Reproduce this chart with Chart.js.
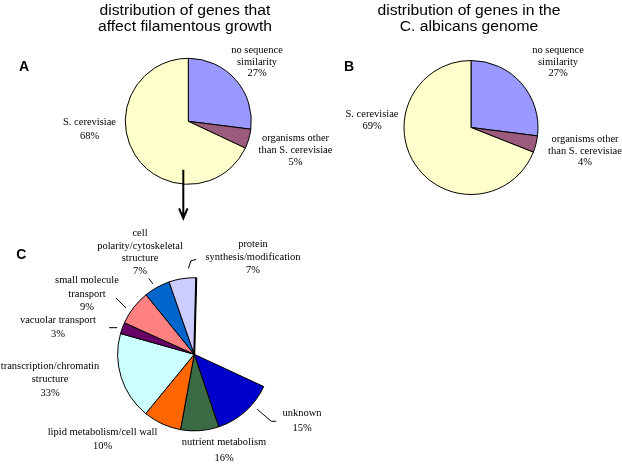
<!DOCTYPE html>
<html>
<head>
<meta charset="utf-8">
<script src="https://cdn.jsdelivr.net/npm/chart.js@4.4.1/dist/chart.umd.min.js"></script>
<style>
  body { margin: 0; background: #fff; }
  #lienzo { position: relative; width: 622px; height: 466px; overflow: hidden; background: #fff; }
  canvas { position: absolute; left: 0; top: 0; }
  .titulo {
    position: absolute; width: 260px; text-align: center; white-space: pre-line;
    font-family: "Liberation Sans", Arial, sans-serif; font-size: 14px; line-height: 15.5px;
    transform: scaleX(1.12); color: #000;
  }
  .letra {
    position: absolute; font-family: "Liberation Sans", Arial, sans-serif;
    font-weight: bold; font-size: 14px; line-height: 14px; color: #000;
  }
  .etiqueta {
    position: absolute; width: 160px; text-align: center; white-space: pre-line;
    font-family: "Liberation Serif", "Times New Roman", serif; font-size: 10.5px; color: #000;
  }
</style>
</head>
<body>
<div id="lienzo">
  <canvas id="pieA" width="622" height="466"></canvas>
  <canvas id="pieB" width="622" height="466"></canvas>
  <canvas id="pieC" width="622" height="466"></canvas>
</div>
<script>
// Datos de la gráfica A (genes que afectan el crecimiento filamentoso)
var categoriasA = ['no sequence\nsimilarity', 'organisms other\nthan S. cerevisiae', 'S. cerevisiae'];
var valoresA = [27, 5, 68];

// Datos de la gráfica B (genoma de C. albicans)
var categoriasB = ['no sequence\nsimilarity', 'organisms other\nthan S. cerevisiae', 'S. cerevisiae'];
var valoresB = [27, 4, 69];

// Datos de la gráfica C (desglose de la parte S. cerevisiae), en orden de las manecillas del reloj
var categoriasC = ['unknown', 'nutrient metabolism', 'lipid metabolism/cell wall',
  'transcription/chromatin\nstructure', 'vacuolar transport', 'small molecule\ntransport',
  'cell\npolarity/cytoskeletal\nstructure', 'protein\nsynthesis/modification'];
// Porcentajes que vienen escritos en las etiquetas
var porcentajesC = [15, 16, 10, 33, 3, 9, 7, 7];
// Tamaño de cada rebanada como se ve dibujada (en % de un círculo completo)
var valoresC = [12.9, 8.05, 8.05, 18.45, 2.4, 7.4, 5.5, 5.75];

// Colores
var coloresAB = ['#9999FF', '#9A5B7C', '#FFFFCC'];
var coloresC = ['#0000CC', '#3A6B44', '#FF6600', '#CCFFFF', '#660066', '#FF8080', '#0066CC', '#CCCCFF'];

// Posición de las etiquetas: [centro x, centro y de la primera línea, alto de línea]
var posicionesA = [[257, 50, 11.2], [295.5, 138.3, 11.7], [89.5, 122.3, 13.7]];
var posicionesB = [[558, 50, 11.2], [585, 139, 11.6], [372, 114, 12]];
var posicionesC = [[302, 412.5, 15.5], [224, 441.7, 16], [102.5, 431.7, 14], [50, 365.7, 13.3],
  [58, 320, 14.3], [87, 280, 13.3], [140, 233.3, 12.6], [253, 243.3, 13]];

// Líneas guía de la gráfica C: índice -> [ajuste de ángulo, radio extra, dx, dy, colita dx, colita dy]
var lineasGuia = {
  0: [-7, 7, 14, 12, 5, 0],
  4: [-1, 5, -8, 0, 0, 0],
  5: [-3.5, 6, -10, -10, 0, 0],
  6: [-1.3, 5, -4.3, -5.6, 0, 0],
  7: [5, 9.5, 2.4, -7.6, 5.3, -1.4]
};

var lienzo = document.getElementById('lienzo');

// Crea un div de texto
function agregaTexto(clase, texto, izq, arriba, alto) {
  var d = document.createElement('div');
  d.className = clase;
  d.textContent = texto;
  d.style.left = izq + 'px';
  d.style.top = arriba + 'px';
  if (alto) d.style.lineHeight = alto + 'px';
  lienzo.appendChild(d);
}

// Títulos y letras de cada panel
agregaTexto('titulo', 'distribution of genes that\naffect filamentous growth', 185 - 130, 3.1);
agregaTexto('titulo', 'distribution of genes in the\nC. albicans genome', 468.5 - 130, 3.1);
agregaTexto('letra', 'A', 19, 59.3);
agregaTexto('letra', 'B', 344, 59.2);
agregaTexto('letra', 'C', 16.2, 247.3);

// Etiquetas de las rebanadas
function etiquetas(categorias, valores, posiciones) {
  for (let i = 0; i < categorias.length; i++) {
    let p = posiciones[i];
    agregaTexto('etiqueta', categorias[i] + '\n' + valores[i] + '%', p[0] - 80, p[1] - p[2] / 2, p[2]);
  }
}
etiquetas(categoriasA, valoresA, posicionesA);
etiquetas(categoriasB, valoresB, posicionesB);
etiquetas(categoriasC, porcentajesC, posicionesC);

// Opciones comunes de los pasteles
function opciones(radio, rotacion, circunferencia, relleno) {
  return {
    responsive: false,
    animation: false,
    events: [],
    radius: radio,
    rotation: rotacion,
    circumference: circunferencia,
    layout: { padding: relleno },
    plugins: { legend: { display: false }, tooltip: { enabled: false }, title: { display: false } }
  };
}

function datos(categorias, valores, colores) {
  return {
    labels: categorias,
    datasets: [{
      data: valores,
      backgroundColor: colores,
      borderColor: '#000',
      borderWidth: 1
    }]
  };
}

// Flecha que va del pastel A al pastel C
var flecha = {
  id: 'flecha',
  afterDraw: function(chart) {
    var arco = chart.getDatasetMeta(0).data[0];
    var ctx = chart.ctx;
    var x = arco.x - 5;
    var y1 = arco.y + arco.outerRadius * 0.77;
    var y2 = arco.y + arco.outerRadius + 34;
    ctx.save();
    ctx.strokeStyle = '#000';
    ctx.lineWidth = 2;
    ctx.beginPath();
    ctx.moveTo(x, y1);
    ctx.lineTo(x, y2);
    ctx.moveTo(x - 4.2, y2 - 10);
    ctx.lineTo(x, y2);
    ctx.lineTo(x + 4.2, y2 - 10);
    ctx.stroke();
    ctx.restore();
  }
};

// Líneas guía del pastel C
var guias = {
  id: 'guias',
  afterDatasetsDraw: function(chart) {
    var arcos = chart.getDatasetMeta(0).data;
    var ctx = chart.ctx;
    ctx.save();
    ctx.strokeStyle = '#000';
    ctx.lineWidth = 1;
    Object.entries(lineasGuia).forEach(([i, g]) => {
      let a = arcos[i];
      let ang = (a.startAngle + a.endAngle) / 2 + g[0] * Math.PI / 180;
      let r = a.outerRadius + g[1];
      let x = a.x + Math.cos(ang) * r;
      let y = a.y + Math.sin(ang) * r;
      ctx.beginPath();
      ctx.moveTo(x, y);
      ctx.lineTo(x + g[2], y + g[3]);
      if (g[4] || g[5]) ctx.lineTo(x + g[2] + g[4], y + g[3] + g[5]);
      ctx.stroke();
    });
    // Borde más grueso al final del pastel
    let u = arcos[arcos.length - 1];
    ctx.lineWidth = 2;
    ctx.beginPath();
    ctx.moveTo(u.x, u.y);
    ctx.lineTo(u.x + Math.cos(u.endAngle) * u.outerRadius, u.y + Math.sin(u.endAngle) * u.outerRadius);
    ctx.stroke();
    ctx.restore();
  }
};

// Pastel A: centro (188.3, 121.3)
new Chart(document.getElementById('pieA'), {
  type: 'pie',
  data: datos(categoriasA, valoresA, coloresAB),
  options: opciones(63, 0, 360, { left: 0, top: 0, right: 245.4, bottom: 223.4 }),
  plugins: [flecha]
});

// Pastel B: centro (471, 127.5)
new Chart(document.getElementById('pieB'), {
  type: 'pie',
  data: datos(categoriasB, valoresB, coloresAB),
  options: opciones(67, 0, 360, { left: 320, top: 0, right: 0, bottom: 211 })
});

// Pastel C: solo ocupa la parte S. cerevisiae, centro (194.3, 354.3)
// Chart.js recorre el centro ~3.6px a la derecha cuando el círculo no está completo
var sumaC = valoresC.reduce((s, v) => s + v, 0);
new Chart(document.getElementById('pieC'), {
  type: 'pie',
  data: datos(categoriasC, valoresC, coloresC),
  options: opciones(76.6, 114.9, sumaC * 3.6, { left: 0, top: 242.6, right: 240.6, bottom: 0 }),
  plugins: [guias]
});
</script>
</body>
</html>
